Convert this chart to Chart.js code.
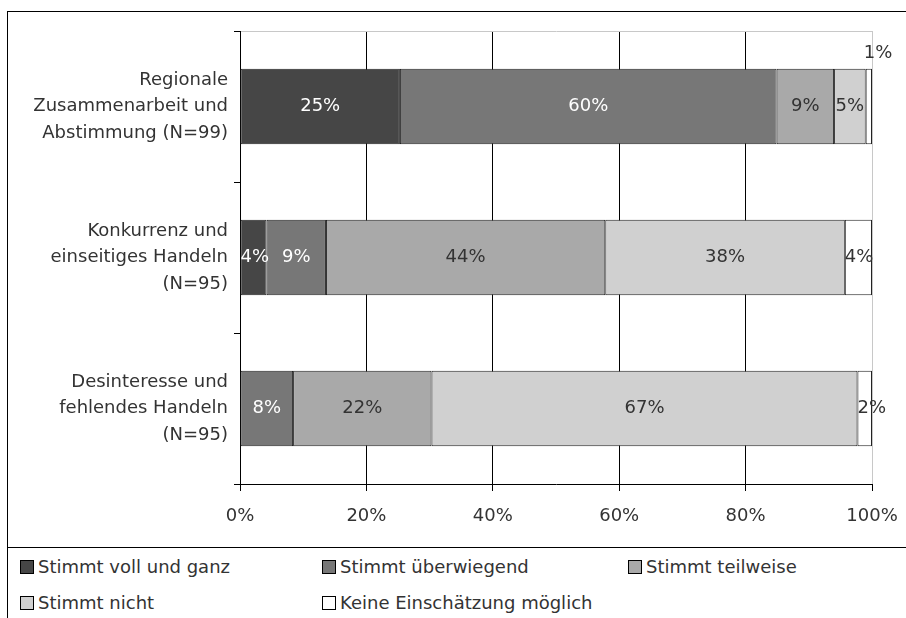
<!DOCTYPE html>
<html>
<head>
<meta charset="utf-8">
<script src="https://cdn.jsdelivr.net/npm/chart.js@4/dist/chart.umd.min.js"></script>
<style>
  html, body { margin: 0; padding: 0; background: #fff; overflow: hidden; width: 906px; height: 618px; }
  #frame { position: absolute; left: 7px; top: 11px; width: 1000px; height: 1000px; border: 1px solid #000; box-sizing: border-box; }
  #sep { position: absolute; left: 7px; top: 547px; width: 1000px; height: 1px; background: #000; }
  #wrap { position: absolute; left: 0; top: 0; width: 906px; height: 548px; }
  .item { position: absolute; font-family: "DejaVu Sans", sans-serif; font-size: 18px; color: #333; white-space: nowrap; line-height: 20px; }
  .item span.box { display: inline-block; width: 12px; height: 12px; border: 1px solid #000; margin-right: 4px; vertical-align: -1px; }
</style>
</head>
<body>
<div id="frame"></div>
<div id="sep"></div>
<div id="wrap"><canvas id="chart" width="906" height="548"></canvas></div>
<div id="legend"></div>
<script>
// categories (y axis)
var categories = [
    ['Regionale', 'Zusammenarbeit und', 'Abstimmung (N=99)'],
    ['Konkurrenz und', 'einseitiges Handeln', '(N=95)'],
    ['Desinteresse und', 'fehlendes Handeln', '(N=95)']
];

// series, values in percent
var seriesNames = ['Stimmt voll und ganz', 'Stimmt überwiegend', 'Stimmt teilweise', 'Stimmt nicht', 'Keine Einschätzung möglich'];
var vollUndGanz   = [25.3, 4.2, 0];
var ueberwiegend  = [59.6, 9.4, 8.4];
var teilweise     = [9.1, 44.2, 21.9];
var stimmtNicht   = [5.0, 37.9, 67.4];
var keineEinschaetzung = [1.0, 4.3, 2.3];

var seriesColors = ['#464646', '#777777', '#a9a9a9', '#d0d0d0', '#ffffff'];
var labelColors = ['#ffffff', '#ffffff', '#333333', '#333333', '#333333'];

// x axis ticks
var xTicks = [0, 20, 40, 60, 80, 100];

var seriesData = [vollUndGanz, ueberwiegend, teilweise, stimmtNicht, keineEinschaetzung];

Chart.defaults.font.family = '"DejaVu Sans", sans-serif';
Chart.defaults.font.size = 18;
Chart.defaults.color = '#333';

var datasets = seriesNames.map(function (name, i) {
    return {
        label: name,
        data: seriesData[i],
        backgroundColor: seriesColors[i],
        borderColor: '#222',
        borderWidth: 1,
        borderSkipped: false,
        categoryPercentage: 1,
        barPercentage: 0.5
    };
});

// top line of the plot area, light gray like the right one
var plotTop = {
    id: 'plotTop',
    beforeDatasetsDraw: function (chart) {
        var a = chart.chartArea, c = chart.ctx;
        c.save();
        c.strokeStyle = '#c8c8c8';
        c.lineWidth = 1;
        c.beginPath();
        c.moveTo(a.left + 1, a.top + 0.5);
        c.lineTo(a.right, a.top + 0.5);
        c.stroke();
        c.restore();
    }
};

// value labels on the segments
var segLabels = {
    id: 'segLabels',
    afterDatasetsDraw: function (chart) {
        var c = chart.ctx;
        c.save();
        c.font = '18px "DejaVu Sans", sans-serif';
        c.textAlign = 'center';
        c.textBaseline = 'middle';
        chart.data.datasets.forEach(function (ds, i) {
            var meta = chart.getDatasetMeta(i);
            meta.data.forEach(function (el, j) {
                var v = ds.data[j];
                if (!v) return;
                var txt = Math.round(v) + '%';
                var left = Math.min(el.x, el.base), right = Math.max(el.x, el.base);
                var w = c.measureText(txt).width;
                var x = Math.max((left + right) / 2, left + w / 2);
                var y = el.y;
                if (v < 1.5) {
                    x = right + 6;
                    y = el.y - el.height / 2 - 15;
                }
                c.fillStyle = labelColors[i];
                c.fillText(txt, x, y);
            });
        });
        c.restore();
    }
};

var myChart = new Chart(document.getElementById('chart').getContext('2d'), {
    type: 'bar',
    data: { labels: categories, datasets: datasets },
    plugins: [plotTop, segLabels],
    options: {
        indexAxis: 'y',
        responsive: false,
        animation: false,
        devicePixelRatio: 1,
        layout: { padding: { top: 31, right: 34, left: 0, bottom: 0 } },
        plugins: { legend: { display: false }, tooltip: { enabled: false } },
        scales: {
            x: {
                stacked: true,
                min: 0,
                max: 100,
                afterBuildTicks: function (scale) {
                    scale.ticks = xTicks.map(function (v) { return { value: v }; });
                },
                afterFit: function (scale) {
                    scale.height = 64;
                    scale.paddingLeft = 0;
                    scale.paddingRight = 0;
                },
                ticks: {
                    callback: function (v) { return v + '%'; },
                    padding: 15,
                    color: '#333',
                    font: { size: 18, lineHeight: 1.2 },
                    maxRotation: 0
                },
                grid: {
                    color: function (c) { return c.tick && c.tick.value === 100 ? '#c8c8c8' : '#000'; },
                    tickColor: '#000',
                    tickLength: 7,
                    lineWidth: 1
                },
                border: { display: true, color: '#000' }
            },
            y: {
                stacked: true,
                afterFit: function (scale) {
                    scale.width = 240;
                    scale.paddingTop = 0;
                    scale.paddingBottom = 0;
                },
                ticks: {
                    padding: 6,
                    color: '#333',
                    font: { size: 18, lineHeight: 1.47 }
                },
                grid: {
                    drawOnChartArea: false,
                    drawTicks: true,
                    tickLength: 6,
                    color: '#000'
                },
                border: { display: true, color: '#000' }
            }
        }
    }
});

// legend below the separator line
var colX = [20, 322, 628];
var rowY = [567, 603];
var legend = document.getElementById('legend');
seriesNames.forEach(function (name, i) {
    var d = document.createElement('div');
    d.className = 'item';
    d.style.left = colX[i % 3] + 'px';
    d.style.top = (rowY[Math.floor(i / 3)] - 10) + 'px';
    var b = document.createElement('span');
    b.className = 'box';
    b.style.background = seriesColors[i];
    d.appendChild(b);
    d.appendChild(document.createTextNode(name));
    legend.appendChild(d);
});
</script>
</body>
</html>
